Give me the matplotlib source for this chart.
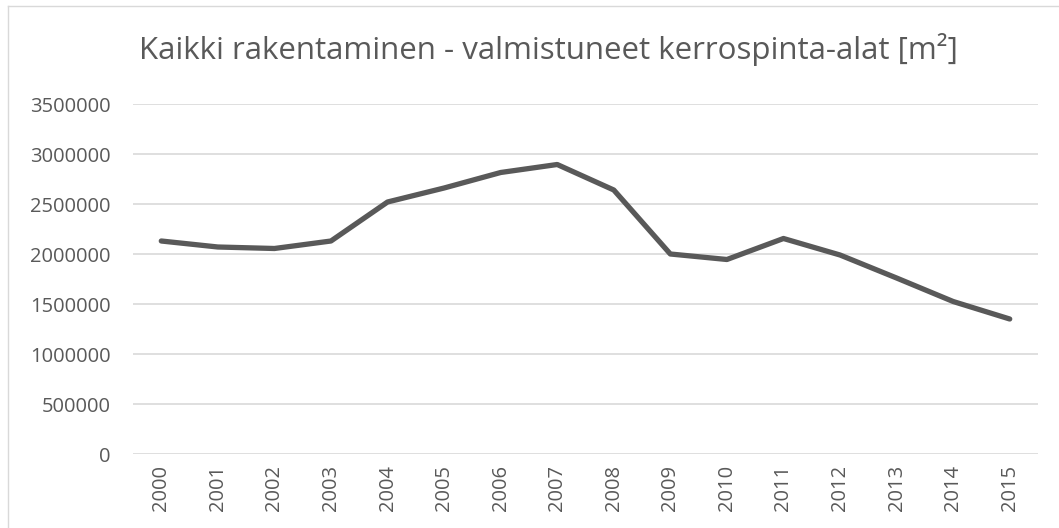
import matplotlib
matplotlib.use("Agg")
import matplotlib.pyplot as plt
from matplotlib.lines import Line2D

years = ["2000", "2001", "2002", "2003", "2004", "2005", "2006", "2007",
         "2008", "2009", "2010", "2011", "2012", "2013", "2014", "2015"]
values = [2130000, 2070000, 2055000, 2130000, 2520000, 2660000, 2815000, 2895000,
          2640000, 2000000, 1945000, 2155000, 1990000, 1760000, 1525000, 1350000]
yticks = [0, 500000, 1000000, 1500000, 2000000, 2500000, 3000000, 3500000]
title = "Kaikki rakentaminen - valmistuneet kerrospinta-alat [m²]"

W, H = 1059, 528
fig = plt.figure(figsize=(W / 100, H / 100), dpi=100)
plt.rcParams['font.family'] = ['Open Sans', 'DejaVu Sans']

left, right, top, bottom = 133, 1038, 104, 454
ax = fig.add_axes([left / W, 1 - bottom / H, (right - left) / W, (bottom - top) / H])

x = list(range(len(years)))
ax.plot(x, values, color="#595959", linewidth=3.8, solid_joinstyle="round", solid_capstyle="round", zorder=3)

ax.set_xlim(-0.5, len(years) - 0.5)
ax.set_ylim(0, 3500000)
ax.set_yticks(yticks)
ax.set_yticklabels([str(v) for v in yticks], fontsize=14.5, color="#595959")
ax.set_xticks(x)
ax.set_xticklabels(years, rotation=90, fontsize=14.5, color="#595959")
ax.grid(axis="y", color="#d9d9d9", linewidth=1.2, zorder=0)
ax.tick_params(axis="both", length=0)
ax.tick_params(axis="y", pad=16)
ax.tick_params(axis="x", pad=8)
for s in ax.spines.values():
    s.set_visible(False)
ax.set_axisbelow(True)

fig.text(548 / W, 1 - 49 / H, title, ha="center", va="center", fontsize=22.5, color="#595959")

# chart area border
fig.add_artist(Line2D([8 / W, 1], [1 - 6 / H, 1 - 6 / H], transform=fig.transFigure, color="#d9d9d9", linewidth=1.0))
fig.add_artist(Line2D([8 / W, 8 / W], [0, 1 - 6 / H], transform=fig.transFigure, color="#d9d9d9", linewidth=1.0))

fig.savefig("out.png", dpi=100)
